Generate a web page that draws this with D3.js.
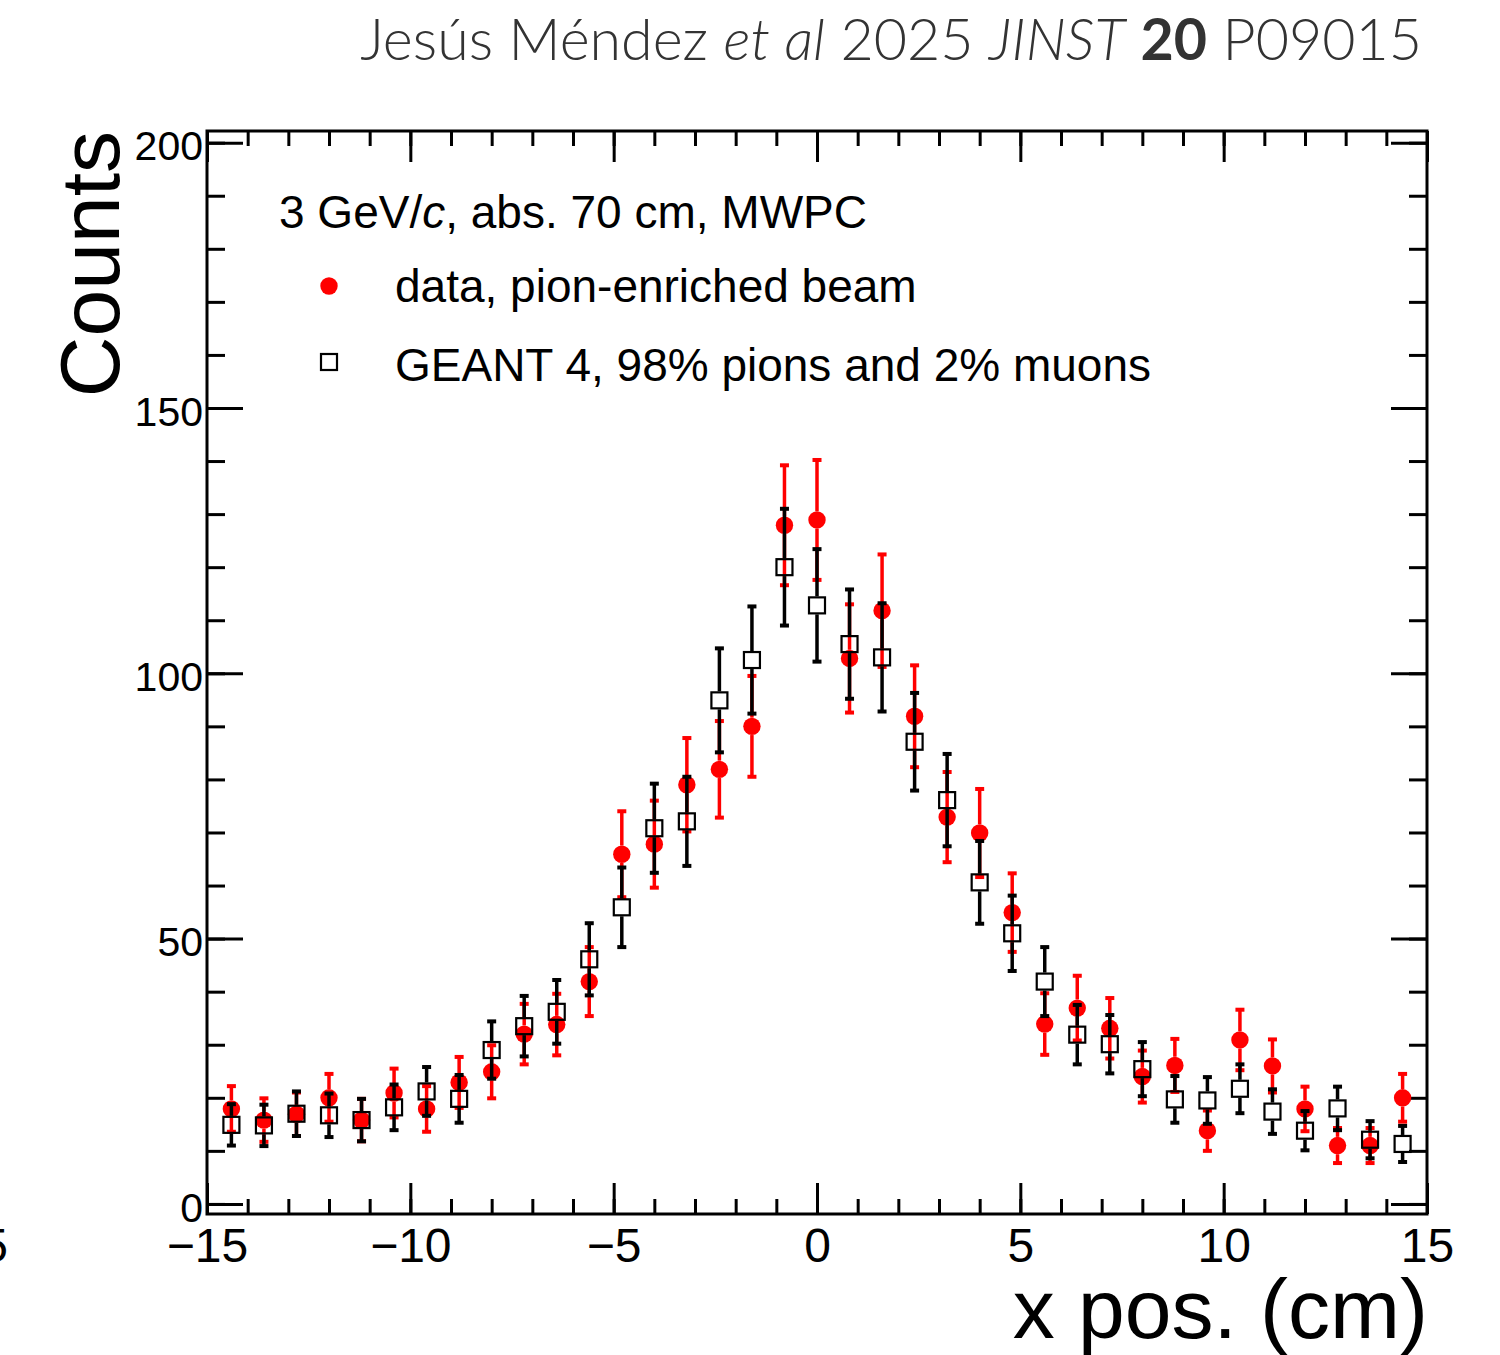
<!DOCTYPE html>
<html>
<head>
<meta charset="utf-8">
<script src="https://cdn.jsdelivr.net/npm/d3@7"></script>
<style>
  html, body { margin: 0; padding: 0; background: #fff; }
  svg { display: block; }
</style>
</head>
<body>
<svg id="chart" width="1500" height="1355"></svg>
<script>
// Bin centres (cm) of the beam-profile histogram
const binCentres = [-14.4, -13.6, -12.8, -12.0, -11.2, -10.4, -9.6, -8.8, -8.0, -7.2, -6.4, -5.6, -4.8,
  -4.0, -3.2, -2.4, -1.6, -0.8, 0.0, 0.8, 1.6, 2.4, 3.2, 4.0, 4.8, 5.6, 6.4, 7.2, 8.0, 8.8, 9.6,
  10.4, 11.2, 12.0, 12.8, 13.6, 14.4];

// Measured counts, pion-enriched beam
const dataCounts = [17.9, 15.8, 16.9, 20.0, 15.8, 20.9, 17.9, 22.9, 24.9, 32.0, 33.8, 41.9, 65.9,
  67.8, 79.0, 81.9, 90.0, 127.9, 128.9, 102.8, 111.8, 91.9, 72.9, 69.9, 54.9, 33.9, 36.9, 33.1,
  24.0, 26.1, 13.8, 30.9, 26.0, 17.9, 11.0, 11.0, 20.0];
const dataErrors = [4.3, 4.1, 4.1, 4.5, 4.0, 4.6, 4.3, 4.8, 5.0, 5.7, 5.8, 6.5, 8.1,
  8.2, 8.8, 9.1, 9.5, 11.3, 11.3, 10.2, 10.6, 9.6, 8.5, 8.3, 7.4, 5.8, 6.1, 5.7,
  4.9, 5.0, 3.8, 5.7, 5.0, 4.2, 3.3, 3.3, 4.5];

// GEANT 4 simulation, 98% pions and 2% muons
const simCounts = [14.9, 14.8, 17.0, 16.7, 15.8, 18.2, 21.2, 19.8, 29.0, 33.5, 36.2, 46.1, 55.9,
  70.8, 72.1, 94.9, 102.5, 120.0, 112.8, 105.5, 103.0, 87.1, 76.1, 60.6, 51.0, 41.9, 31.9, 30.1,
  25.4, 19.7, 19.5, 21.7, 17.4, 13.8, 18.0, 12.1, 11.3];
const simErrors = [3.9, 3.9, 4.2, 4.1, 4.0, 4.3, 4.6, 4.5, 5.4, 5.7, 6.0, 6.8, 7.5,
  8.4, 8.4, 9.8, 10.1, 11.0, 10.6, 10.3, 10.2, 9.2, 8.7, 7.8, 7.1, 6.5, 5.6, 5.5,
  5.1, 4.4, 4.4, 4.6, 4.2, 3.7, 4.1, 3.5, 3.4];

// Axis ticks
const xMajorTicks = [-15, -10, -5, 0, 5, 10, 15];
const xMinorTicks = d3.range(-15, 15.01, 1);
const yMajorTicks = [0, 50, 100, 150, 200];
const yMinorTicks = d3.range(0, 200.01, 10);

// Texts
const legendHeader = ["3 GeV/", "c", ", abs. 70 cm, MWPC"];
const legendData = "data, pion-enriched beam";
const legendSim = "GEANT 4, 98% pions and 2% muons";
const xTitle = "x pos. (cm)";
const yTitle = "Counts";

const svg = d3.select("#chart");
const font = "'Liberation Sans', Arial, Helvetica, sans-serif";

// Frame
const L = 207, R = 1427, T = 131, B = 1214;
const x = d3.scaleLinear().domain([-15, 15]).range([L, R]);
const y = d3.scaleLinear().domain([-1.9, 202.2]).range([B, T]);

const TW = 3;

// Axes (ticks point inward, mirrored on top and right)
function styleAxis(g) {
  g.select(".domain").remove();
  g.selectAll(".tick line").attr("stroke", "#000").attr("stroke-width", TW);
}
svg.append("g").attr("transform", `translate(0,${B})`)
  .call(d3.axisBottom(x).tickValues(xMinorTicks).tickSize(-15).tickFormat(""))
  .call(styleAxis);
const xAx = svg.append("g").attr("transform", `translate(0,${B})`)
  .call(d3.axisBottom(x).tickValues(xMajorTicks).tickSize(-31).tickPadding(14)
    .tickFormat(d => d < 0 ? "\u2212" + Math.abs(d) : String(d)))
  .call(styleAxis);
xAx.selectAll("text").attr("font-family", font).attr("font-size", 48).attr("fill", "#000");

svg.append("g").attr("transform", `translate(0,${T})`)
  .call(d3.axisTop(x).tickValues(xMinorTicks).tickSize(-15).tickFormat(""))
  .call(styleAxis);
svg.append("g").attr("transform", `translate(0,${T})`)
  .call(d3.axisTop(x).tickValues(xMajorTicks).tickSize(-31).tickFormat(""))
  .call(styleAxis);

svg.append("g").attr("transform", `translate(${L},0)`)
  .call(d3.axisLeft(y).tickValues(yMinorTicks).tickSize(-18).tickFormat(""))
  .call(styleAxis);
const yAx = svg.append("g").attr("transform", `translate(${L},0)`)
  .call(d3.axisLeft(y).tickValues(yMajorTicks).tickSize(-36).tickPadding(4))
  .call(styleAxis);
yAx.selectAll("text").attr("font-family", font).attr("font-size", 41).attr("fill", "#000")
  .attr("dy", "0.42em");

svg.append("g").attr("transform", `translate(${R},0)`)
  .call(d3.axisRight(y).tickValues(yMinorTicks).tickSize(-18).tickFormat(""))
  .call(styleAxis);
svg.append("g").attr("transform", `translate(${R},0)`)
  .call(d3.axisRight(y).tickValues(yMajorTicks).tickSize(-36).tickFormat(""))
  .call(styleAxis);

svg.append("rect").attr("x", L).attr("y", T).attr("width", R - L).attr("height", B - T)
  .attr("fill", "none").attr("stroke", "#000").attr("stroke-width", TW);

// Clipped tick label of the neighbouring panel
svg.append("text").attr("x", 8).attr("y", 1262).attr("text-anchor", "end")
  .attr("font-family", font).attr("font-size", 48).text("15");

// Axis titles
svg.append("text").attr("x", 1428).attr("y", 1338).attr("text-anchor", "end")
  .attr("font-family", font).attr("font-size", 84).text(xTitle);
svg.append("text").attr("transform", `translate(119,${T}) rotate(-90)`)
  .attr("text-anchor", "end").attr("font-family", font).attr("font-size", 84).text(yTitle);

// Series
const points = binCentres.map((c, i) => ({
  c, d: dataCounts[i], de: dataErrors[i], s: simCounts[i], se: simErrors[i]
}));

const plot = svg.append("g");
const CAP = 9, CAPH = 4, BARW = 3.5;
const RAD = 8.7, SQ = 16;

function errorBars(g, key, errKey, color, gap) {
  const grp = g.append("g");
  points.forEach(p => {
    const cx = x(p.c), yt = y(p[key] + p[errKey]), yb = y(p[key] - p[errKey]), yc = y(p[key]);
    if (yc - gap > yt) grp.append("line").attr("x1", cx).attr("x2", cx).attr("y1", yt).attr("y2", yc - gap)
      .attr("stroke", color).attr("stroke-width", BARW);
    if (yc + gap < yb) grp.append("line").attr("x1", cx).attr("x2", cx).attr("y1", yc + gap).attr("y2", yb)
      .attr("stroke", color).attr("stroke-width", BARW);
    [yt, yb].forEach(yy => grp.append("rect").attr("x", cx - CAP / 2).attr("y", yy - CAPH / 2)
      .attr("width", CAP).attr("height", CAPH).attr("fill", color));
  });
}

// Data: red error bars and filled circles
errorBars(plot, "d", "de", "#ff0000", RAD);
plot.append("g").selectAll("circle").data(points).join("circle")
  .attr("cx", p => x(p.c)).attr("cy", p => y(p.d)).attr("r", RAD).attr("fill", "#ff0000");

// Simulation: black error bars and open squares
errorBars(plot, "s", "se", "#000", SQ / 2 + 1);
plot.append("g").selectAll("rect").data(points).join("rect")
  .attr("x", p => x(p.c) - SQ / 2).attr("y", p => y(p.s) - SQ / 2)
  .attr("width", SQ).attr("height", SQ).attr("fill", "none")
  .attr("stroke", "#000").attr("stroke-width", 2.2);

// Legend
const lg = svg.append("g").attr("font-family", font).attr("font-size", 46).attr("fill", "#000");
const hdr = lg.append("text").attr("x", 279).attr("y", 228);
hdr.append("tspan").text(legendHeader[0]);
hdr.append("tspan").attr("font-style", "italic").text(legendHeader[1]);
hdr.append("tspan").text(legendHeader[2]);

lg.append("circle").attr("cx", 329).attr("cy", 286).attr("r", RAD).attr("fill", "#ff0000");
lg.append("text").attr("x", 395).attr("y", 302).text(legendData);
lg.append("rect").attr("x", 329 - SQ / 2).attr("y", 362 - SQ / 2).attr("width", SQ).attr("height", SQ)
  .attr("fill", "none").attr("stroke", "#000").attr("stroke-width", 2.2);
lg.append("text").attr("x", 395).attr("y", 381).text(legendSim);

// Citation line
const cite = svg.append("text").attr("x", 1422).attr("y", 60).attr("text-anchor", "end")
  .attr("font-family", "Lato, 'Open Sans', sans-serif").attr("font-weight", 300)
  .attr("fill", "#333").attr("font-size", 54);
cite.append("tspan").text("Jesús Méndez ");
cite.append("tspan").attr("font-style", "italic").text("et al");
cite.append("tspan").text(" 2025 ");
cite.append("tspan").attr("font-style", "italic").text("JINST");
cite.append("tspan").text(" ");
cite.append("tspan").attr("font-weight", 700).text("20");
cite.append("tspan").text(" P09015");
// Fit the citation to its line width
const w = cite.node().getComputedTextLength();
cite.attr("font-size", 54 * 1062 / w);
</script>
</body>
</html>
